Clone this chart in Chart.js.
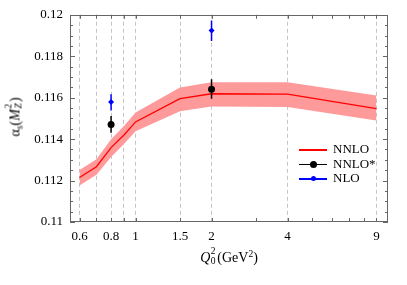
<!DOCTYPE html>
<html>
<head>
<meta charset="utf-8">
<script src="https://cdn.jsdelivr.net/npm/chart.js@4"></script>
<style>
  body { margin: 0; background: #fff; }
  #wrap { position: relative; width: 407px; height: 285px; font-family: "Liberation Serif", "DejaVu Serif", serif; color: #000; }
  canvas { position: absolute; left: 0; top: 0; }
  .ttl { position: absolute; font-size: 14px; white-space: nowrap; line-height: 16px; }
  .stk { display: inline-block; position: relative; width: 7px; height: 10px; }
  .stk .hi { position: absolute; left: 0.5px; top: -5px; font-size: 9.5px; line-height: 9px; }
  .stk .lo { position: absolute; left: 0.5px; top: 5px; font-size: 9.5px; line-height: 9px; }
  .sup { font-size: 9.5px; position: relative; top: -5px; }
  .sub { font-size: 9.5px; position: relative; top: 3px; }
  #legend { position: absolute; left: 299px; top: 142px; font-size: 13px; }
  .row { position: relative; height: 14.5px; line-height: 14.5px; }
  .row .ln { position: absolute; left: 0; top: 7px; width: 28px; height: 1.5px; }
  .row .mk { position: absolute; left: 11px; top: 4px; width: 7px; height: 7px; border-radius: 50%; }
  .row .tx { position: absolute; left: 34px; top: 0; }
</style>
</head>
<body>
<div id="wrap">
  <canvas id="chart" width="407" height="285"></canvas>
  <div class="ttl" id="ytitle" style="left:16px; top:117px; transform: translate(-50%, -50%) rotate(-90deg);">α<span class="sub">s</span>(<i>M</i><span class="stk"><span class="hi">2</span><span class="lo"><i>Z</i></span></span>)</div>
  <div class="ttl" id="xtitle" style="left:229px; top:258px; transform: translate(-50%, -50%);"><i>Q</i><span class="stk"><span class="hi">2</span><span class="lo">0</span></span>(GeV<span class="sup">2</span>)</div>
  <div id="legend">
    <div class="row"><span class="ln" style="background:#ff0000"></span><span class="tx">NNLO</span></div>
    <div class="row"><span class="ln" style="background:#000"></span><span class="mk" style="background:#000"></span><span class="tx">NNLO*</span></div>
    <div class="row"><span class="ln" style="background:#0000ff"></span><span class="mk" style="background:#0000ff; width:5px; height:5px; left:12px; top:5px;"></span><span class="tx">NLO</span></div>
  </div>
</div>
<script>
// Q0^2 points of the NNLO fit and its uncertainty band
const qValues = [0.6, 0.7, 0.8, 0.9, 1, 1.5, 2, 4, 9];
const nnloCentral = [0.11215, 0.11267, 0.11359, 0.1142, 0.11483, 0.11595, 0.11619, 0.11617, 0.11547];
const nnloUpper = [0.11251, 0.11303, 0.11399, 0.11463, 0.11528, 0.11649, 0.11675, 0.11675, 0.11611];
const nnloLower = [0.11176, 0.11228, 0.11314, 0.11377, 0.11438, 0.11534, 0.11558, 0.11555, 0.1149];

// NNLO* points with error bars
const nnloStarQ = [0.8, 2];
const nnloStarVal = [0.11471, 0.11641];
const nnloStarLo = [0.11431, 0.11595];
const nnloStarHi = [0.11511, 0.11689];

// NLO points with error bars
const nloQ = [0.8, 2];
const nloVal = [0.11579, 0.11924];
const nloLo = [0.11538, 0.11874];
const nloHi = [0.11617, 0.11973];

// axis ticks
const xTickValues = [0.6, 0.7, 0.8, 0.9, 1, 1.5, 2, 3, 4, 5, 6, 7, 8, 9];
const xTickLabels = { 0.6: '0.6', 0.8: '0.8', 1: '1', 1.5: '1.5', 2: '2', 4: '4', 9: '9' };
const xGridValues = [0.6, 0.7, 0.8, 0.9, 1, 1.5, 2, 4, 9];
const yTickValues = [0.11, 0.112, 0.114, 0.116, 0.118, 0.12];
const yTickLabels = ['0.11', '0.112', '0.114', '0.116', '0.118', '0.12'];
const yMin = 0.11, yMax = 0.12, yMinorStep = 0.0005;

function points(xs, ys) {
  return xs.map((q, i) => ({ x: q, y: ys[i] }));
}

// vertical error bars as one broken line per series
function errorBars(xs, lo, hi) {
  const out = [];
  xs.forEach((q, i) => {
    if (i > 0) out.push({ x: q, y: null });
    out.push({ x: q, y: lo[i] }, { x: q, y: hi[i] });
  });
  return out;
}

// frame and inward tick marks on all four sides
const frameTicks = {
  id: 'frameTicks',
  afterDraw(chart) {
    const { ctx, chartArea: a, scales: { x, y } } = chart;
    ctx.save();
    ctx.strokeStyle = '#666';
    ctx.lineWidth = 1;
    ctx.beginPath();
    xTickValues.forEach(v => {
      const px = Math.round(x.getPixelForValue(v)) + 0.5;
      ctx.moveTo(px, a.bottom); ctx.lineTo(px, a.bottom - 4);
      ctx.moveTo(px, a.top); ctx.lineTo(px, a.top + 4);
    });
    const n = Math.round((yMax - yMin) / yMinorStep);
    for (let k = 0; k <= n; k++) {
      const py = Math.round(y.getPixelForValue(yMin + k * yMinorStep)) + 0.5;
      const len = k % 4 === 0 ? 5 : 3;
      ctx.moveTo(a.left, py); ctx.lineTo(a.left + len, py);
      ctx.moveTo(a.right, py); ctx.lineTo(a.right - len, py);
    }
    ctx.stroke();
    ctx.strokeRect(Math.round(a.left) + 0.5, Math.round(a.top) + 0.5, Math.round(a.width) - 1, Math.round(a.height) - 1);
    ctx.restore();
  }
};

const tickFont = { family: '"Liberation Serif", serif', size: 13 };

new Chart(document.getElementById('chart'), {
  type: 'line',
  data: {
    datasets: [
      { label: 'NNLO*', data: points(nnloStarQ, nnloStarVal), showLine: false, order: 1,
        pointRadius: 3.5, pointBackgroundColor: '#000', pointBorderWidth: 0 },
      { label: 'NLO', data: points(nloQ, nloVal), showLine: false, order: 1,
        pointStyle: 'rectRot', pointRadius: 3, pointBackgroundColor: '#0000ff', pointBorderWidth: 0 },
      { label: 'NNLO* err', data: errorBars(nnloStarQ, nnloStarLo, nnloStarHi), order: 2,
        borderColor: '#000', borderWidth: 1.5, pointRadius: 0, spanGaps: false },
      { label: 'NLO err', data: errorBars(nloQ, nloLo, nloHi), order: 2,
        borderColor: '#0000ff', borderWidth: 1.5, pointRadius: 0, spanGaps: false },
      { label: 'NNLO', data: points(qValues, nnloCentral), order: 3,
        borderColor: '#ff0000', borderWidth: 1.3, pointRadius: 0, tension: 0 },
      { label: 'band up', data: points(qValues, nnloUpper), order: 5,
        borderWidth: 0, pointRadius: 0, fill: 6, backgroundColor: '#ff9a9a' },
      { label: 'band lo', data: points(qValues, nnloLower), order: 5,
        borderWidth: 0, pointRadius: 0, fill: false }
    ]
  },
  options: {
    responsive: false,
    animation: false,
    devicePixelRatio: 1,
    layout: { padding: { left: 0, top: 13, right: 19, bottom: 0 } },
    plugins: { legend: { display: false }, tooltip: { enabled: false } },
    scales: {
      x: {
        type: 'logarithmic',
        min: 0.55,
        max: 10,
        afterBuildTicks: s => { s.ticks = xTickValues.map(v => ({ value: v })); },
        afterFit: s => { s.height = 63; },
        ticks: {
          autoSkip: false, maxRotation: 0, padding: 7, color: '#000', font: tickFont,
          callback: v => xTickLabels[v] || ''
        },
        grid: {
          drawTicks: false,
          lineWidth: 1,
          color: c => (c.tick && xGridValues.includes(c.tick.value)) ? '#c4c4c4' : 'rgba(0,0,0,0)'
        },
        border: { display: false, dash: [4, 3] }
      },
      y: {
        min: yMin,
        max: yMax,
        afterBuildTicks: s => { s.ticks = yTickValues.map(v => ({ value: v })); },
        afterFit: s => { s.width = 70; },
        ticks: { padding: 7, color: '#000', font: tickFont, callback: (v, i) => yTickLabels[i] },
        grid: { display: false, drawTicks: false },
        border: { display: false }
      }
    }
  },
  plugins: [frameTicks]
});
</script>
</body>
</html>
